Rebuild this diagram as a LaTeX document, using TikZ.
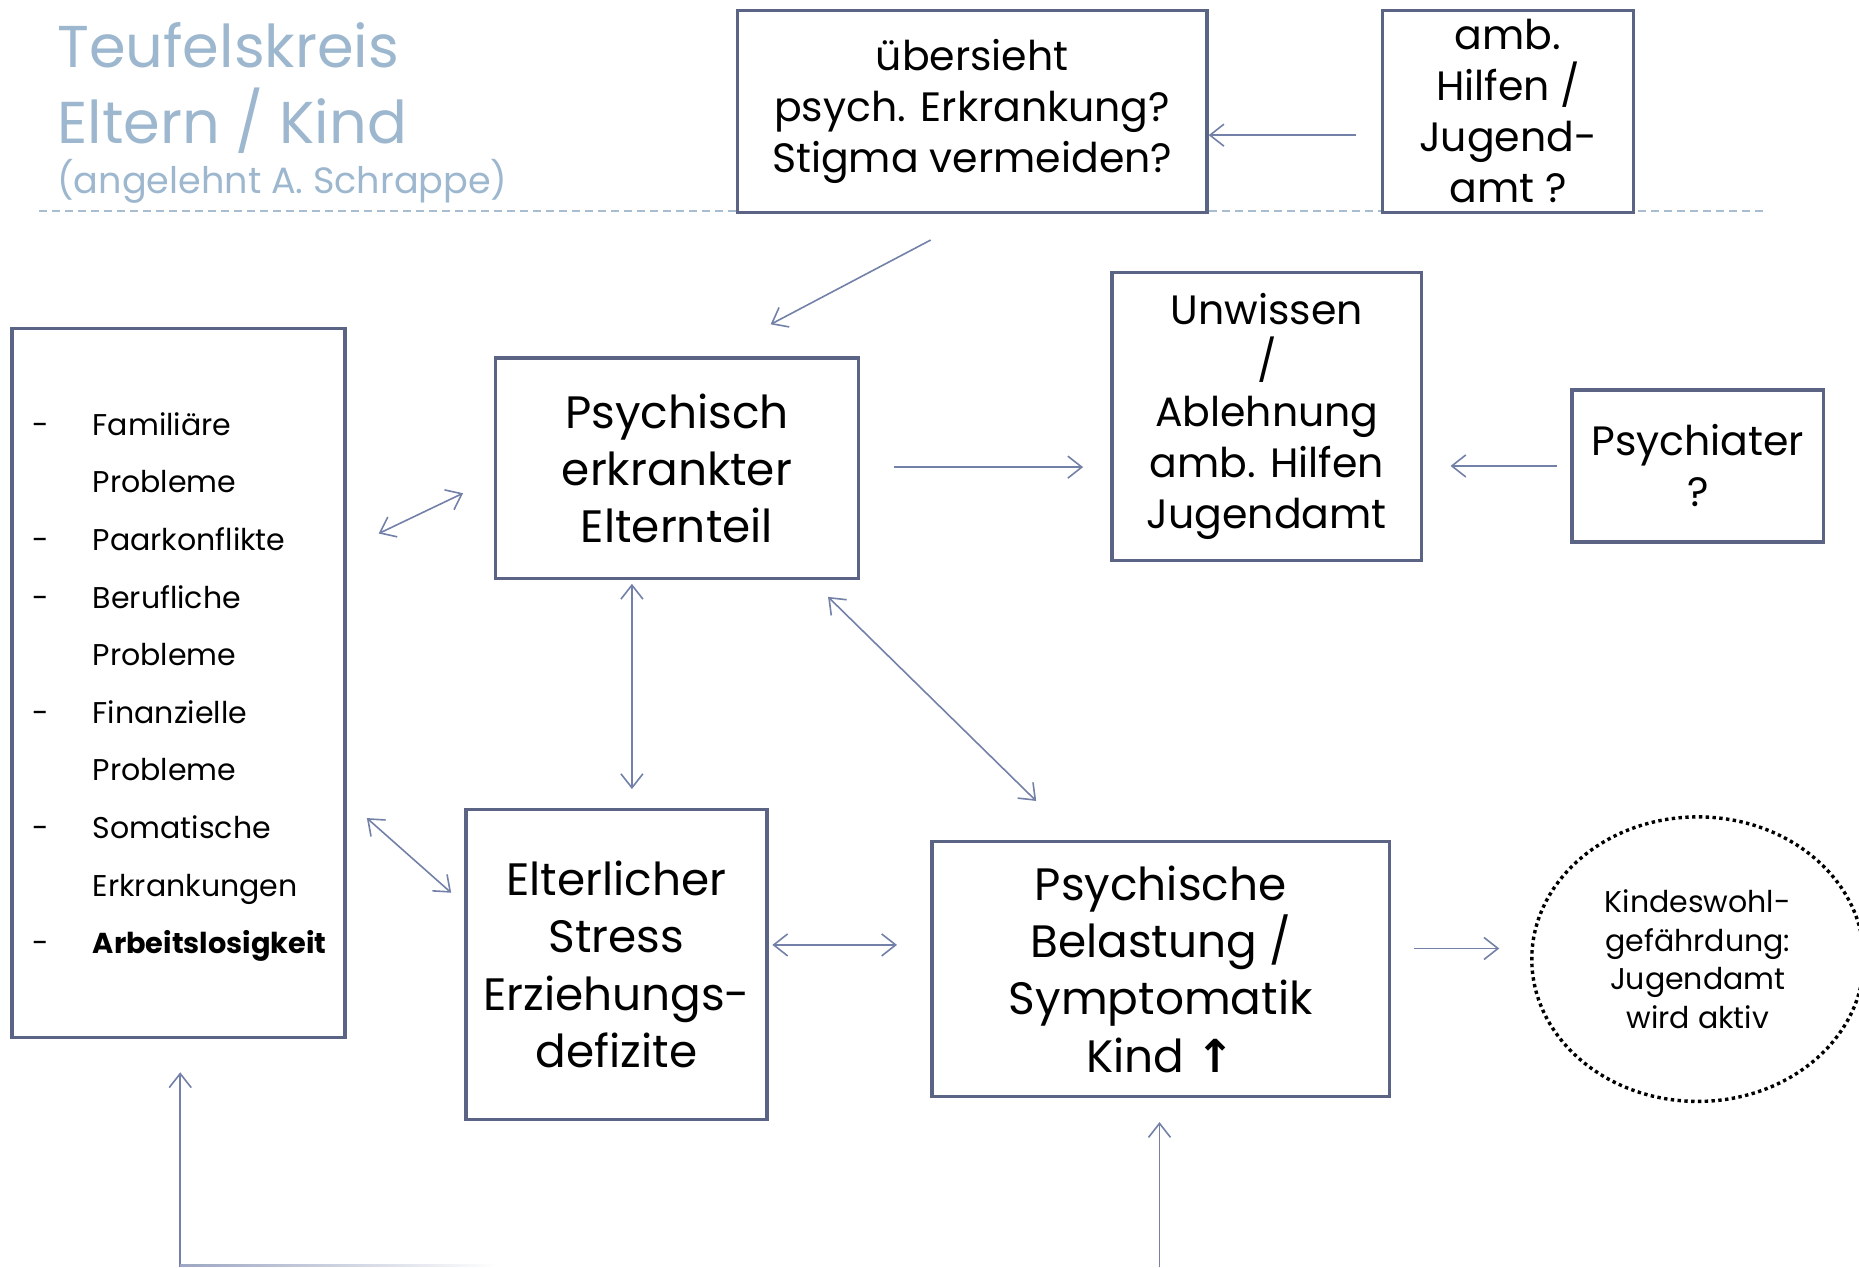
\documentclass[tikz,border=0pt]{standalone}
\usepackage{fontspec}
\setmainfont{Poppins}
\newfontfamily\symf{DejaVu Sans}
\usetikzlibrary{arrows.meta,calc,shapes.geometric}
\definecolor{boxc}{HTML}{5B6485}
\definecolor{arrc}{HTML}{7381A9}
\definecolor{titc}{HTML}{9DB7CF}
\definecolor{dashc}{HTML}{A8BDD0}
\begin{document}
\begin{tikzpicture}[x=0.5928pt,y=-0.5928pt,
 box/.style={draw=boxc,line width=1.7pt,fill=white,align=center,inner sep=0pt},
 wh/.style 2 args={minimum width=#1*0.5928pt,minimum height=#2*0.5928pt},
 tip/.tip={Straight Barb[length=7pt,width=11pt]},
 arr/.style={draw=arrc,line width=0.8pt,-tip},
 darr/.style={draw=arrc,line width=0.8pt,tip-tip},
 bigf/.style={font=\fontsize{22.7}{28.6}\selectfont},
 midf/.style={font=\fontsize{20.5}{25.5}\selectfont},
 listf/.style={font=\fontsize{15}{18}\selectfont},
 titf/.style={text=titc,inner sep=0pt,anchor=base west},
 ]
\useasboundingbox (0,0) rectangle (1568,1069);
% title
\node[titf,font=\fontsize{29.5}{36}\selectfont] (t1) at (48,57) {Teufelskreis};
\node[titf,font=\fontsize{29.5}{36}\selectfont] (t2) at (48,121) {Eltern / Kind};
\node[titf,font=\fontsize{18.3}{22}\selectfont] (t3) at (48,163) {(angelehnt A. Schrappe)};
\draw[dashc,line width=1pt,dash pattern=on 4pt off 2.5pt] (33,178) coordinate (d1) -- (1490,178) coordinate (d2);
% boxes
\node[box,wh={396}{170},midf] (A) at (820,94) {übersieht\\psych. Erkrankung?\\Stigma vermeiden?};
\node[box,wh={212}{170},midf] (B) at (1272,94) {amb.\\Hilfen /\\Jugend-\\amt ?};
\node[box,wh={306}{186},bigf] (C) at (571,395) {Psychisch\\erkrankter\\Elternteil};
\node[box,wh={261}{243},midf] (D) at (1068.5,351.5) {Unwissen\\/\\Ablehnung\\amb. Hilfen\\Jugendamt};
\node[box,wh={212}{128},midf] (E) at (1432,393) {Psychiater\\?};
\node[box,wh={281}{598}] (F) at (150.5,576) {};
\node[box,wh={254}{261},bigf] (G) at (520,813.5) {Elterlicher\\Stress\\Erziehungs-\\defizite};
\node[box,wh={386}{215},bigf] (H) at (979,817.5) {Psychische\\Belastung /\\Symptomatik\\Kind {\symf\bfseries ↑}};
\node[ellipse,draw=black,line width=1.7pt,dash pattern=on 1.7pt off 1.7pt,wh={280}{240},align=center,inner sep=0pt,font=\fontsize{15}{19.2}\selectfont] (K) at (1432,809) {Kindeswohl-\\gefährdung:\\Jugendamt\\wird aktiv};
% list in F
\foreach \y/\d/\t [count=\i] in {367/-/Familiäre,415//Probleme,464/-/Paarkonflikte,513/-/Berufliche,561//Probleme,610/-/Finanzielle,658//Probleme,707/-/Somatische,756//Erkrankungen}{
  \node[listf,anchor=base west,inner sep=0pt] (l\i) at (78,\y) {\t};
  \node[listf,anchor=base west,inner sep=0pt] (m\i) at (27,\y) {\d};
}
\node[anchor=base west,inner sep=0pt,font=\fontsize{14.4}{18}\selectfont\bfseries] (l10) at (78,804) {Arbeitslosigkeit};
\node[listf,anchor=base west,inner sep=0pt] (m10) at (27,804) {-};
% connectors
\draw[arr] ($(B.west)+(-21,20)$) -- ($(A.east)+(0,20)$);
\draw[arr] ($(A.south)+(-35,22)$) -- ($(C.north)+(79,-27)$);
\draw[arr] ($(C.east)+(29,-1)$) -- ($(D.west)+(-23,42.5)$);
\draw[arr] ($(E.west)+(-11,0)$) -- ($(D.east)+(23,41.5)$);
\draw[darr] ($(F.east)+(27,-126)$) -- ($(C.west)+(-26,21)$);
\draw[darr] ($(F.east)+(17,114)$) -- ($(G.west)+(-11,-60.5)$);
\draw[darr] ($(C.south)+(-38,3)$) -- ($(G.north)+(13,-16)$);
\draw[darr] ($(C.south east)+(-27,14)$) -- ($(H.north)+(-105,-33)$);
\draw[darr] ($(G.east)+(3,-16.5)$) -- ($(H.west)+(-28,-20.5)$);
\draw[arr] ($(H.east)+(19,-17.5)$) -- ($(K.west)+(-26,-9)$);
\coordinate (b1) at (152,1069);
\coordinate (b2) at (978,1069);
\draw[arr] (b1) -- ($(F.south)+(1.5,28)$);
\draw[arr] (b2) -- ($(H.south)+(-1,20)$);
\shade[left color=arrc!70,right color=white] (152,1066.5) rectangle (420,1068.5);
\end{tikzpicture}
\end{document}
